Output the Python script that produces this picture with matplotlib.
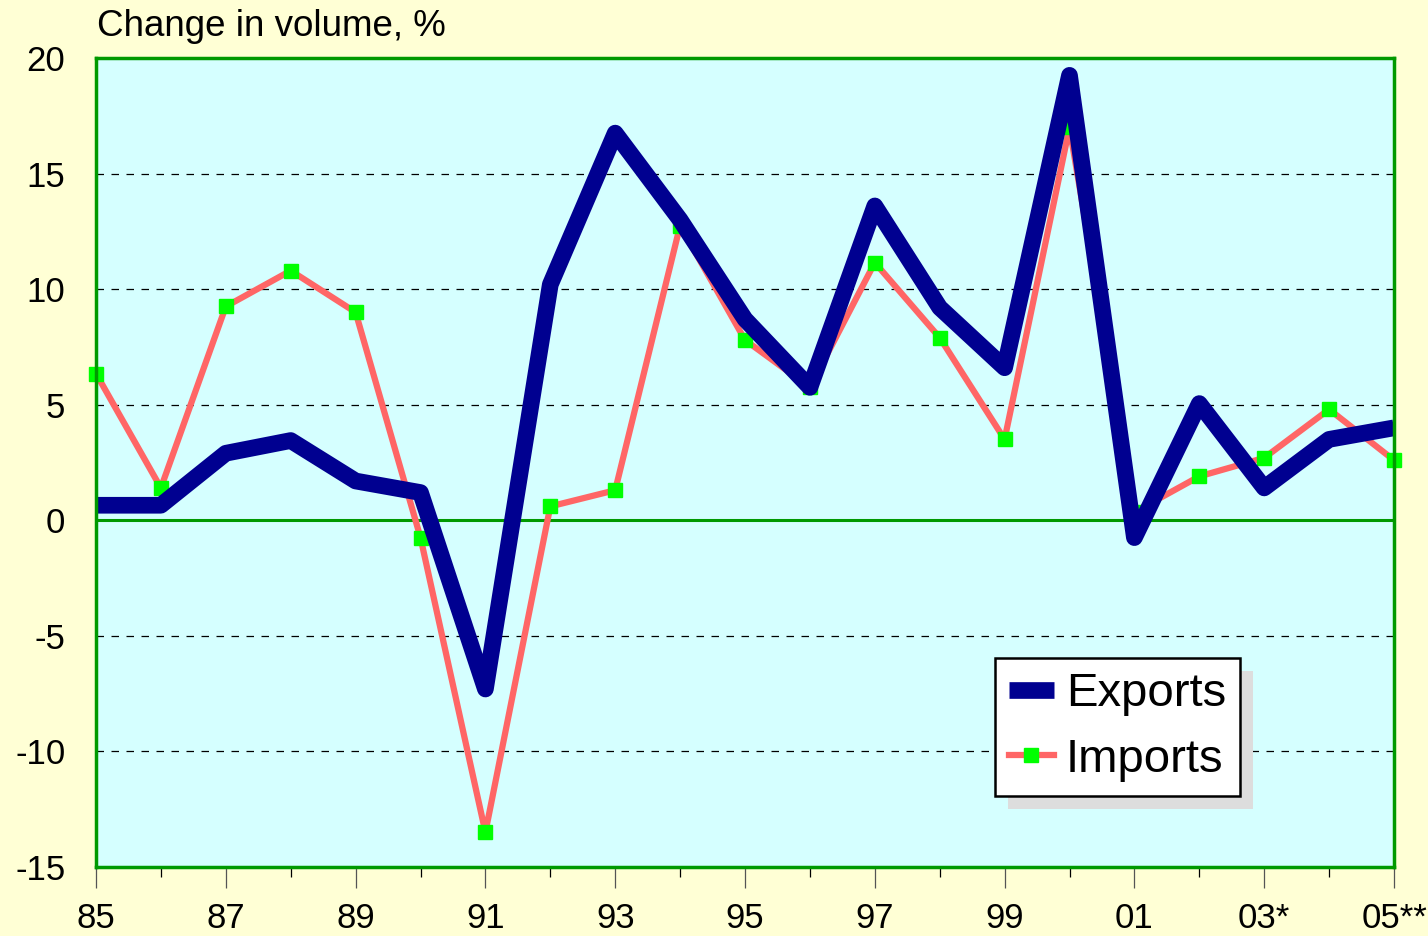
import matplotlib
matplotlib.use("Agg")
import matplotlib.pyplot as plt
from matplotlib.patches import Rectangle

plt.rcParams['font.family'] = ['Liberation Sans', 'DejaVu Sans']

years = list(range(1985, 2006))
exports = [0.65, 0.65, 2.9, 3.45, 1.7, 1.2, -7.3, 10.2, 16.75, 13.0, 8.7, 5.75,
           13.6, 9.2, 6.6, 19.25, -0.75, 5.05, 1.4, 3.5, 4.0]
imports = [6.35, 1.4, 9.25, 10.8, 9.0, -0.75, -13.5, 0.6, 1.3, 12.75, 7.8, 5.75,
           11.15, 7.9, 3.5, 17.0, 0.35, 1.9, 2.7, 4.8, 2.6]
xtick_years = list(range(1985, 2006, 2))
xtick_labels = ['85', '87', '89', '91', '93', '95', '97', '99', '01', '03*', '05**']
minor_years = list(range(1986, 2005, 2))
yticks = list(range(-15, 21, 5))

fig = plt.figure(figsize=(14.28, 9.36), dpi=100, facecolor='#FFFFD5')
ax = fig.add_axes([96/1428, 69/936, 1298/1428, 809/936])
ax.set_facecolor('#D5FFFF')

for y in yticks:
    if y not in (0, -15, 20):
        ax.axhline(y, color='black', lw=0.9, ls=(0, (6, 6)), zorder=1)
ax.axhline(0, color='#009900', lw=2.2, zorder=1.5)

ax.plot(years, imports, color='#FF6666', lw=4.5, marker='s', markersize=10,
        markerfacecolor='#00FF00', markeredgecolor='#00FF00', zorder=2,
        label='Imports', clip_on=False)
ax.plot(years, exports, color='#000090', lw=12, solid_joinstyle='round',
        solid_capstyle='butt', zorder=3, label='Exports')

ax.set_xlim(1985, 2005)
ax.set_ylim(-15, 20)
ax.set_xticks(xtick_years)
ax.set_xticklabels(xtick_labels)
ax.set_xticks(minor_years, minor=True)
ax.set_yticks(yticks)
ax.set_yticklabels([str(v) for v in yticks])
ax.tick_params(axis='x', which='major', length=15, width=0.9, color='#555555',
               direction='out', labelsize=25, pad=10)
ax.tick_params(axis='x', which='minor', length=7, width=0.9, color='black',
               direction='out')
ax.tick_params(axis='y', length=0, labelsize=25, pad=22)
for s in ax.spines.values():
    s.set_color('#009900')
    s.set_linewidth(2.5)
    s.set_zorder(4)

fig.text(97/1428, 1 - 27/936, 'Change in volume, %', fontsize=26.5, va='center', ha='left')

handles, labels = ax.get_legend_handles_labels()
order = [1, 0]
leg = ax.legend([handles[i] for i in order], [labels[i] for i in order],
                loc='upper left', bbox_to_anchor=(0.6925, 0.258), fontsize=34,
                frameon=True, fancybox=False, edgecolor='black', facecolor='white',
                framealpha=1, handlelength=0.95, handletextpad=0.25,
                borderpad=0.3, labelspacing=0.45, borderaxespad=0)
leg.get_frame().set_linewidth(1.8)
leg.set_zorder(6)

fig.canvas.draw()
bb = leg.get_window_extent()
shadow = Rectangle((bb.x0 + 13, bb.y0 - 13), bb.width, bb.height,
                   transform=None, facecolor='#DDDDDD', edgecolor='none', zorder=5)
ax.add_artist(shadow)

fig.savefig('out.png', dpi=100, facecolor=fig.get_facecolor())
